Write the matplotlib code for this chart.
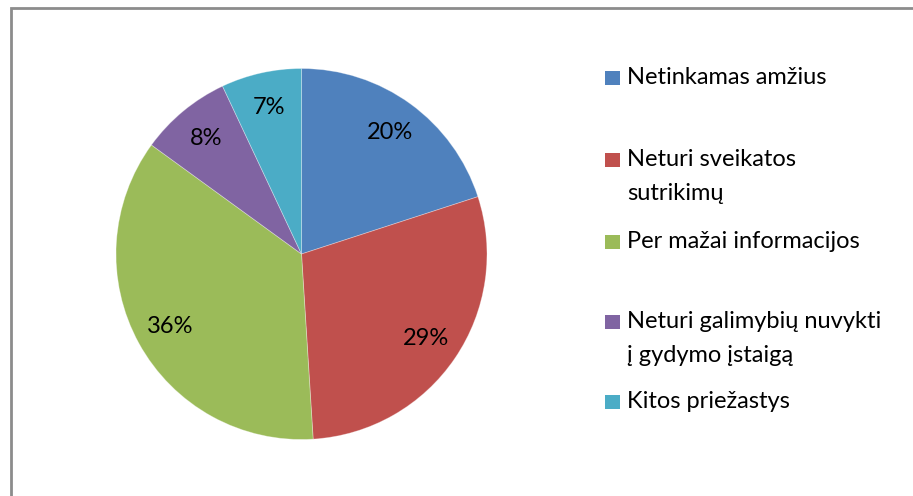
import matplotlib
matplotlib.use("Agg")
import matplotlib.pyplot as plt
from matplotlib.patches import Rectangle

categories = ["Netinkamas amžius", "Neturi sveikatos\nsutrikimų", "Per mažai informacijos",
              "Neturi galimybių nuvykti\nį gydymo įstaigą", "Kitos priežastys"]
values = [20, 29, 36, 8, 7]
colors = ["#4F81BD", "#C0504D", "#9BBB59", "#8064A2", "#4BACC6"]

plt.rcParams['font.family'] = ['Lato', 'DejaVu Sans']

W, H = 913, 496
fig = plt.figure(figsize=(W / 100, H / 100), dpi=100)
fig.patch.set_facecolor("white")

# outer border (extends beyond right/bottom edges)
fig.add_artist(Rectangle((11 / W, -0.1), 1.2, (H - 8) / H + 0.1, transform=fig.transFigure,
                         fill=False, edgecolor="#8C8C8C", linewidth=2))

cx, cy, r = 301.5, 254, 185.5
ax = fig.add_axes([(cx - r) / W, (H - cy - r) / H, 2 * r / W, 2 * r / H])
wedges, texts = ax.pie(values, colors=colors, startangle=90, counterclock=False,
                       labels=[f"{v}%" for v in values], labeldistance=0.81,
                       textprops=dict(fontsize=17, color="black"),
                       wedgeprops=dict(linewidth=0.6, edgecolor=(1, 1, 1, 0.35)))
for t in texts:
    t.set_ha("center")
    t.set_va("center")
ax.set_aspect("equal")
ax.set_xlim(-1, 1)
ax.set_ylim(-1, 1)

# legend
cap_top = [68, 150, 232, 312, 392]
for yt, lab, col in zip(cap_top, categories, colors):
    fig.add_artist(Rectangle((605 / W, (H - yt - 17) / H), 15 / W, 14 / H,
                             transform=fig.transFigure, facecolor=col, edgecolor="none"))
    fig.text(627 / W, (H - yt + 1) / H, lab, fontsize=17, va="top", ha="left",
             linespacing=1.76, transform=fig.transFigure)

fig.savefig("out.png", dpi=100)
